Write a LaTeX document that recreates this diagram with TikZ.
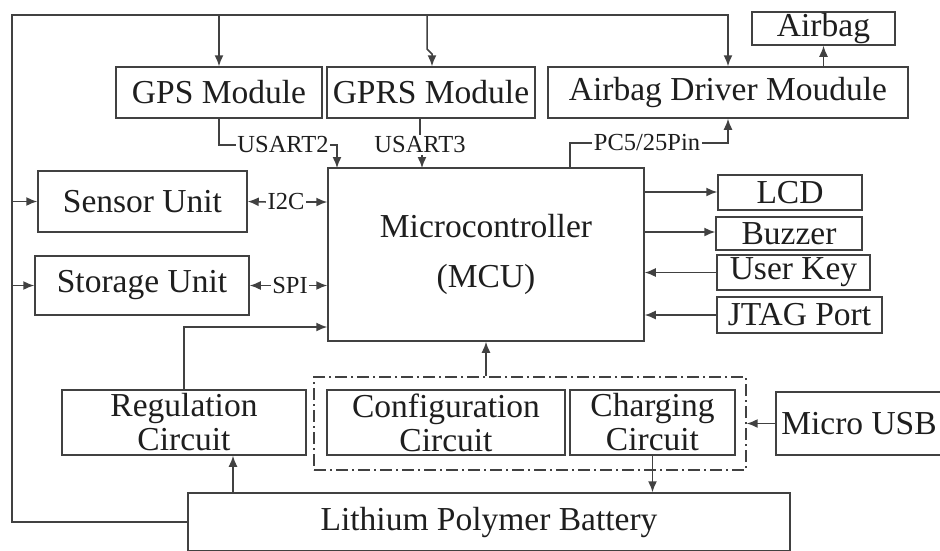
\documentclass[tikz,border=0pt]{standalone}
\usepackage{fontspec}
\setmainfont{Liberation Serif}
\usepackage{tikz}
\usetikzlibrary{arrows.meta, positioning, calc}
\definecolor{mygray}{RGB}{65,65,65}
\definecolor{mytext}{RGB}{30,30,30}
\tikzset{
  block/.style={rectangle, draw=mygray, line width=1.5pt, inner sep=0pt, align=center, text=mytext, font=\fontsize{33.5}{34}\selectfont},
  sig/.style={inner sep=1.5pt, text=mytext, font=\fontsize{24.5}{24.5}\selectfont},
  arrow/.style={-{Latex[length=11pt,width=9pt]}, line width=1.5pt, color=mygray},
  line/.style={line width=1.5pt, color=mygray},
  group/.style={rectangle, draw=mygray, line width=1.4pt, dash pattern=on 12pt off 4pt on 2pt off 4pt}
}
\begin{document}
\begin{tikzpicture}[x=1pt, y=-1pt]
  \useasboundingbox[fill=white] (0,0) rectangle (940,550);
  % Top row
  \node[block, minimum width=206pt, minimum height=51pt] (gps) at (219,92.5) {GPS Module};
  \node[block, minimum width=208pt, minimum height=51pt] (gprs) at (431,92.5) {GPRS Module};
  \node[block, minimum width=360pt, minimum height=51pt] (adm) at (728,92.5) {Airbag Driver Moudule};
  \node[block, minimum width=143pt, minimum height=33pt] (airbag) at (823.5,28.5) {Airbag};
  % MCU and peripherals
  \node[block, minimum width=316pt, minimum height=173pt, font=\fontsize{33.5}{50}\selectfont] (mcu) at (486,254.5) {Microcontroller\\(MCU)};
  \node[block, minimum width=209pt, minimum height=61pt] (sensor) at (142.5,201.5) {Sensor Unit};
  \node[block, minimum width=214pt, minimum height=59pt] (storage) at (142,285.5) {Storage Unit};
  \node[block, minimum width=144pt, minimum height=35pt] (lcd) at (790,192.5) {LCD};
  \node[block, minimum width=146pt, minimum height=33pt] (buzzer) at (789,233.5) {Buzzer};
  \node[block, minimum width=153pt, minimum height=35pt] (key) at (793.5,272.5) {User Key};
  \node[block, minimum width=165pt, minimum height=36pt] (jtag) at (799.5,315) {JTAG Port};
  % Power part
  \node[group, minimum width=432pt, minimum height=93pt] (grp) at (530,423.5) {};
  \node[block, minimum width=244pt, minimum height=65pt] (reg) at (184,422.5) {Regulation\\Circuit};
  \node[block, minimum width=238pt, minimum height=65pt] (cfg) at (446,422.5) {Configuration\\Circuit};
  \node[block, minimum width=165pt, minimum height=65pt] (chg) at (652.5,422.5) {Charging\\Circuit};
  \node[block, minimum width=166pt, minimum height=63pt] (usb) at (859,423.5) {Micro USB};
  \node[block, minimum width=602pt, minimum height=58pt] (batt) at (489,522) {Lithium Polymer Battery};
  % Bus labels
  \node[sig] (usart2) at (283,145) {USART2};
  \node[sig] (usart3) at (420,145) {USART3};
  \node[sig] (pc5) at (647,143) {PC5/25Pin};
  \node[sig] (i2c) at (286,202) {I2C};
  \node[sig] (spi) at (290,285.5) {SPI};
  \coordinate (top) at (12,15);
  \coordinate (jog) at (427,15);

  % Supply bus from battery
  \draw[arrow] (batt.west) -| (top) -| (adm.north);
  \draw[arrow] (gps.north |- top) -- (gps.north);
  \draw[arrow] (jog) -- ++(0,34) -- ++(5,5) -- (gprs.north -| 432,0);
  \draw[arrow] (12,201.5) -- (sensor.west);
  \draw[arrow] (12,285.5) -- (storage.west);

  % Serial links
  \draw[line] (gps.south) |- (usart2.west);
  \draw[arrow] (usart2.east) -| (337,168);
  \draw[line] (gprs.south -| usart3) -- (usart3.north);
  \draw[arrow] (usart3.south -| 422,0) -- (422,168);
  \draw[line] (570,168) |- (pc5.west);
  \draw[arrow] (pc5.east) -| (adm.south);
  \draw[arrow] (adm.north -| airbag.south) -- (airbag.south);
  \draw[arrow] (i2c.west) -- (sensor.east);
  \draw[arrow] (i2c.east) -- (mcu.west |- i2c.east);
  \draw[arrow] (spi.west) -- (storage.east);
  \draw[arrow] (spi.east) -- (mcu.west |- spi.east);

  % Outputs and inputs
  \draw[arrow] (mcu.east |- 0,192) -- (lcd.west |- 0,192);
  \draw[arrow] (mcu.east |- 0,232) -- (buzzer.west |- 0,232);
  \draw[arrow] (key.west) -- (mcu.east |- key.west);
  \draw[arrow] (jtag.west) -- (mcu.east |- jtag.west);

  % Power
  \draw[arrow] (reg.north) |- (mcu.west |- 0,327);
  \draw[arrow] (grp.north -| mcu.south) -- (mcu.south);
  \draw[arrow] (usb.west) -- (grp.east |- usb.west);
  \draw[arrow] (batt.north -| 233,0) -- (reg.south -| 233,0);
  \draw[arrow] (chg.south) -- (batt.north -| chg.south);
\end{tikzpicture}
\end{document}
